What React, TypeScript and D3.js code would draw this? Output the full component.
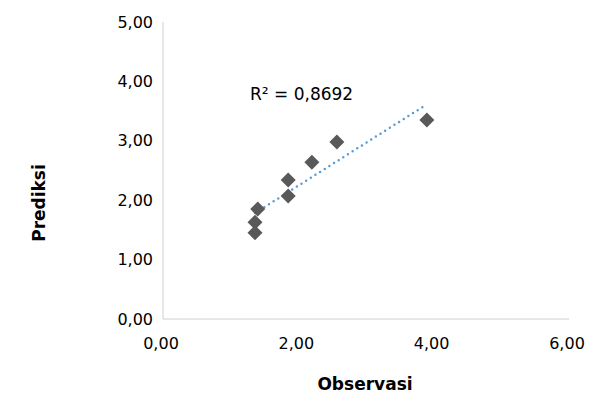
import React from 'react';
import * as d3 from 'd3';

const obsValues = [1.36, 1.36, 1.4, 1.85, 1.85, 2.2, 2.57, 3.9];
const predValues = [1.45, 1.63, 1.85, 2.07, 2.34, 2.64, 2.98, 3.35];
const xTicks = [0, 2, 4, 6];
const yTicks = [0, 1, 2, 3, 4, 5];
const r2Label = 'R² = 0,8692';

const fmt = (v: number) => v.toFixed(2).replace('.', ',');

export default function App() {
  const W = 611, H = 401;
  const x = d3.scaleLinear().domain([0, 6]).range([163, 569]);
  const y = d3.scaleLinear().domain([0, 5]).range([319, 22]);

  const mx = d3.mean(obsValues)!, my = d3.mean(predValues)!;
  const sxy = d3.sum(obsValues, (v, i) => (v - mx) * (predValues[i] - my));
  const sxx = d3.sum(obsValues, (v) => (v - mx) ** 2);
  const slope = sxy / sxx, icpt = my - slope * mx;
  const x0 = d3.min(obsValues)!, x1 = d3.max(obsValues)!;
  const font = 'DejaVu Sans, Verdana, sans-serif';

  return (
    <svg width={W} height={H} style={{ position: 'absolute', left: 0, top: 0 }} fontFamily={font}>
      <rect width={W} height={H} fill="#fff" />
      <line x1={x(0)} x2={x(0)} y1={y(5)} y2={y(0)} stroke="#d0d0d0" />
      <line x1={x(0)} x2={x(6)} y1={y(0)} y2={y(0)} stroke="#d0d0d0" />
      {yTicks.map((t) => (
        <text key={t} x={x(0) - 10} y={y(t)} dy="0.35em" textAnchor="end" fontSize={16}>{fmt(t)}</text>
      ))}
      {xTicks.map((t) => (
        <text key={t} x={x(t) - 2} y={y(0) + 30} textAnchor="middle" fontSize={16}>{fmt(t)}</text>
      ))}
      <line x1={x(x0)} y1={y(slope * x0 + icpt)} x2={x(x1)} y2={y(slope * x1 + icpt)}
        stroke="#5b9bd5" strokeWidth={2.5} strokeDasharray="0 5.5" strokeLinecap="round" />
      {obsValues.map((v, i) => {
        const cx = x(v), cy = y(predValues[i]);
        return <path key={i} d={`M${cx},${cy - 7.5}L${cx + 7.5},${cy}L${cx},${cy + 7.5}L${cx - 7.5},${cy}Z`} fill="#595959" />;
      })}
      <text x={250} y={100} fontSize={17}>{r2Label}</text>
      <text x={365} y={390} textAnchor="middle" fontSize={17} fontWeight="bold">Observasi</text>
      <text transform="translate(45,203) rotate(-90)" textAnchor="middle" fontSize={17} fontWeight="bold">Prediksi</text>
    </svg>
  );
}
